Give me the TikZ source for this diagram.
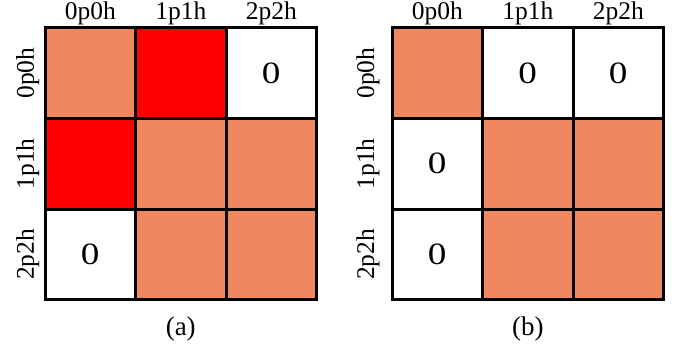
\documentclass[tikz,border=0pt]{standalone}
\usepackage{fontspec}
\setmainfont{Liberation Serif}
\definecolor{salmon}{RGB}{239,136,94}
\definecolor{hotred}{RGB}{255,0,0}
\begin{document}
\begin{tikzpicture}[x=1pt,y=-1pt,
  cell/.style={draw=black,line width=3pt,minimum width=90.5pt,minimum height=90.5pt,
    inner sep=0pt,outer sep=0pt,font=\fontsize{31}{33}\selectfont},
  salcell/.style={cell,fill=salmon},
  redcell/.style={cell,fill=hotred},
  zerocell/.style={cell,fill=white},
  lab/.style={font=\fontsize{25.5}{27}\selectfont,inner sep=0pt,anchor=base},
  rlab/.style={lab,rotate=90},
  captext/.style={font=\fontsize{27}{28}\selectfont,inner sep=0pt,anchor=base}
]
\useasboundingbox (0,0) rectangle (681,345);
% left matrix (a)
\node[salcell]  (a00) at (90.25,73.25) {};
\node[redcell]  (a01) at (180.75,73.25) {};
\node[zerocell] (a02) at (271.25,73.25) {\scalebox{1.2}[1]{0}};
\node[redcell]  (a10) at (90.25,163.75) {};
\node[salcell]  (a11) at (180.75,163.75) {};
\node[salcell]  (a12) at (271.25,163.75) {};
\node[zerocell] (a20) at (90.25,254.25) {\scalebox{1.2}[1]{0}};
\node[salcell]  (a21) at (180.75,254.25) {};
\node[salcell]  (a22) at (271.25,254.25) {};
\node[lab] (ac0) at (90.25,20) {0p0h};
\node[lab] (ac1) at (180.75,20) {1p1h};
\node[lab] (ac2) at (271.25,20) {2p2h};
\node[rlab] (ar0) at (34,73.25) {0p0h};
\node[rlab] (ar1) at (34,163.75) {1p1h};
\node[rlab] (ar2) at (34,254.25) {2p2h};
\node[captext] (acap) at (180.75,335) {(a)};
% right matrix (b)
\node[salcell]  (b00) at (437.25,73.25) {};
\node[zerocell] (b01) at (527.75,73.25) {\scalebox{1.2}[1]{0}};
\node[zerocell] (b02) at (618.25,73.25) {\scalebox{1.2}[1]{0}};
\node[zerocell] (b10) at (437.25,163.75) {\scalebox{1.2}[1]{0}};
\node[salcell]  (b11) at (527.75,163.75) {};
\node[salcell]  (b12) at (618.25,163.75) {};
\node[zerocell] (b20) at (437.25,254.25) {\scalebox{1.2}[1]{0}};
\node[salcell]  (b21) at (527.75,254.25) {};
\node[salcell]  (b22) at (618.25,254.25) {};
\node[lab] (bc0) at (437.25,20) {0p0h};
\node[lab] (bc1) at (527.75,20) {1p1h};
\node[lab] (bc2) at (618.25,20) {2p2h};
\node[rlab] (br0) at (374,73.25) {0p0h};
\node[rlab] (br1) at (374,163.75) {1p1h};
\node[rlab] (br2) at (374,254.25) {2p2h};
\node[captext] (bcap) at (527.75,335) {(b)};
\end{tikzpicture}
\end{document}
